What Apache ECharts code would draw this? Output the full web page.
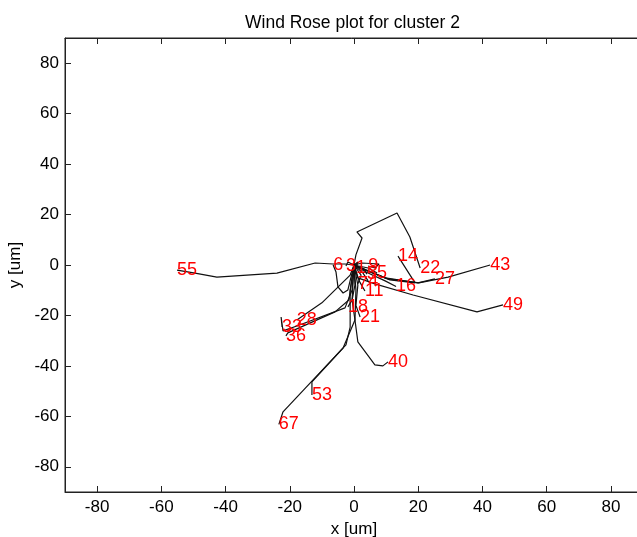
<!DOCTYPE html>
<html>
<head>
<meta charset="utf-8">
<script src="https://cdn.jsdelivr.net/npm/echarts@6/dist/echarts.min.js"></script>
<style>html,body{margin:0;padding:0;background:#fff}#chart{width:637px;height:537px}</style>
</head>
<body>
<div id="chart"></div>
<script>
// Tick values
const xTicks = [-80, -60, -40, -20, 0, 20, 40, 60, 80];
const yTicks = [-80, -60, -40, -20, 0, 20, 40, 60, 80];

// Track labels (shown at each track's end point)
const trackLabels = ['55','22','14','27','43','16','49','40','53','67','28','33','36','18','6','3','1','9','5','5','7','4','11','21'];

// Track coordinates [x, y] in um, each starting at the origin
const track55 = [[0,0],[-2.8,0.4],[-6.5,0.4],[-12.1,0.8],[-24.0,-3.2],[-42.7,-4.8],[-49.5,-3.2],[-55.1,-2.0]];
const track22 = [[0,0],[0.6,4.0],[2.5,10.7],[0.9,13.1],[13.4,20.6],[17.4,11.1],[20.6,-1.2]];
const track14 = [[0,0],[3.4,-2.0],[11.2,-5.9],[19.0,-7.1],[13.7,3.5]];
const track27 = [[0,0],[2.5,-1.2],[9.7,-5.1],[19.9,-7.1],[25.2,-5.5]];
const track43 = [[0,0],[1.9,-1.2],[10.6,-5.5],[20.2,-7.1],[29.3,-4.8],[42.4,0]];
const track16 = [[0,0],[3.7,-2.8],[9.7,-6.3],[13.1,-8.5]];
const track49 = [[0,0],[1.2,-5.1],[6.5,-7.5],[18.4,-11.9],[38.3,-18.6],[46.4,-15.8]];
const track40 = [[0,0],[0.6,-9.9],[0.3,-21.8],[1.2,-30.5],[6.5,-39.6],[9.0,-40.0],[10.6,-38.4]];
const track53 = [[0,0],[-0.6,-13.9],[0.3,-21.8],[-3.4,-32.9],[-13.1,-46.3],[-13.1,-51.5]];
const track67 = [[0,0],[-1.2,-9.9],[-1.2,-24.6],[-2.5,-31.7],[-22.1,-58.2],[-23.4,-63.2]];
const track28 = [[0,0],[-1.2,-4.0],[-10.0,-15.0],[-17.8,-21.8]];
const track33 = [[0,0],[-0.6,-9.9],[-2.8,-17.0],[-17.8,-24.2],[-22.1,-26.1],[-22.7,-20.6],[-22.4,-24.6]];
const track36 = [[0,0],[-1.6,-13.9],[-5.9,-18.6],[-20.6,-26.9],[-21.2,-28.1]];
const track18 = [[0,0],[0.3,-7.9],[-0.6,-13.9],[-1.9,-16.6]];
const track6  = [[0,0],[-1.9,-9.9],[-3.4,-11.1],[-5.0,-8.7],[-5.6,-2.8],[-6.5,0]];
const track3  = [[0,0],[-1.9,1.2],[-2.5,-0.4]];
const track1  = [[0,0],[1.2,1.2],[0.6,-1.2]];
const track9  = [[0,0],[2.5,0.8],[7.8,0.4],[6.5,-1.2],[4.4,-0.4]];
const track5a = [[0,0],[3.1,-1.6],[4.0,-3.6]];
const track5b = [[0,0],[4.4,-1.2],[7.2,-3.2]];
const track7  = [[0,0],[2.2,-4.0],[1.2,-7.5]];
const track4  = [[0,0],[2.8,-3.2],[4.4,-6.3]];
const track11 = [[0,0],[1.6,-6.3],[3.4,-10.3]];
const track21 = [[0,0],[1.2,-8.0],[0.6,-16.0],[1.9,-20.6]];

const tracks = [track55,track22,track14,track27,track43,track16,track49,track40,track53,track67,track28,track33,track36,track18,track6,track3,track1,track9,track5a,track5b,track7,track4,track11,track21];

const FONT = 'Liberation Sans, Arial, sans-serif';
const chart = echarts.init(document.getElementById('chart'), null, {renderer: 'canvas'});

const lineSeries = tracks.map((t, i) => ({
  type: 'line',
  name: 'track' + trackLabels[i],
  data: t,
  showSymbol: false,
  symbol: 'none',
  lineStyle: {color: '#111', width: 1.2},
  silent: true,
  z: 2
}));

const labelSeries = {
  type: 'scatter',
  symbolSize: 0,
  data: tracks.map((t, i) => ({name: trackLabels[i], value: t[t.length - 1]})),
  label: {
    show: true,
    position: 'right',
    distance: 0,
    formatter: p => p.name,
    color: '#ff0000',
    fontSize: 18,
    fontFamily: FONT
  },
  itemStyle: {opacity: 1},
  silent: true,
  z: 5
};

const baseAxis = {
  type: 'value',
  min: -90,
  max: 90,
  splitLine: {show: false},
  axisLine: {show: true, onZero: false, lineStyle: {color: '#222', width: 1}},
};

chart.setOption({
  animation: false,
  backgroundColor: '#fff',
  title: {
    text: 'Wind Rose plot for cluster 2',
    left: 240,
    top: 9,
    textStyle: {fontFamily: FONT, fontSize: 17.5, fontWeight: 'normal', color: '#000'}
  },
  grid: {left: 65, top: 38, right: -6, bottom: 45, show: true, borderColor: '#222', borderWidth: 1, containLabel: false, outerBoundsMode: 'none'},
  xAxis: [
    Object.assign({}, baseAxis, {
      position: 'bottom',
      name: 'x [um]',
      nameLocation: 'middle',
      nameGap: 28,
      nameTextStyle: {fontFamily: FONT, fontSize: 17, color: '#000'},
      axisTick: {show: true, inside: true, length: 6, customValues: xTicks, lineStyle: {color: '#222'}},
      axisLabel: {show: true, customValues: xTicks, margin: 7, fontFamily: FONT, fontSize: 17, color: '#000'}
    }),
    Object.assign({}, baseAxis, {
      position: 'top',
      axisTick: {show: true, inside: true, length: 6, customValues: xTicks, lineStyle: {color: '#222'}},
      axisLabel: {show: false}
    })
  ],
  yAxis: [
    Object.assign({}, baseAxis, {
      position: 'left',
      name: 'y [um]',
      nameLocation: 'middle',
      nameGap: 38,
      nameRotate: 90,
      nameTextStyle: {fontFamily: FONT, fontSize: 17, color: '#000'},
      axisTick: {show: true, inside: true, length: 6, customValues: yTicks, lineStyle: {color: '#222'}},
      axisLabel: {show: true, customValues: yTicks, margin: 6, fontFamily: FONT, fontSize: 17, color: '#000'}
    }),
    Object.assign({}, baseAxis, {
      position: 'right',
      axisTick: {show: true, inside: true, length: 6, customValues: yTicks, lineStyle: {color: '#222'}},
      axisLabel: {show: false}
    })
  ],
  series: lineSeries.concat([labelSeries])
});
</script>
</body>
</html>
